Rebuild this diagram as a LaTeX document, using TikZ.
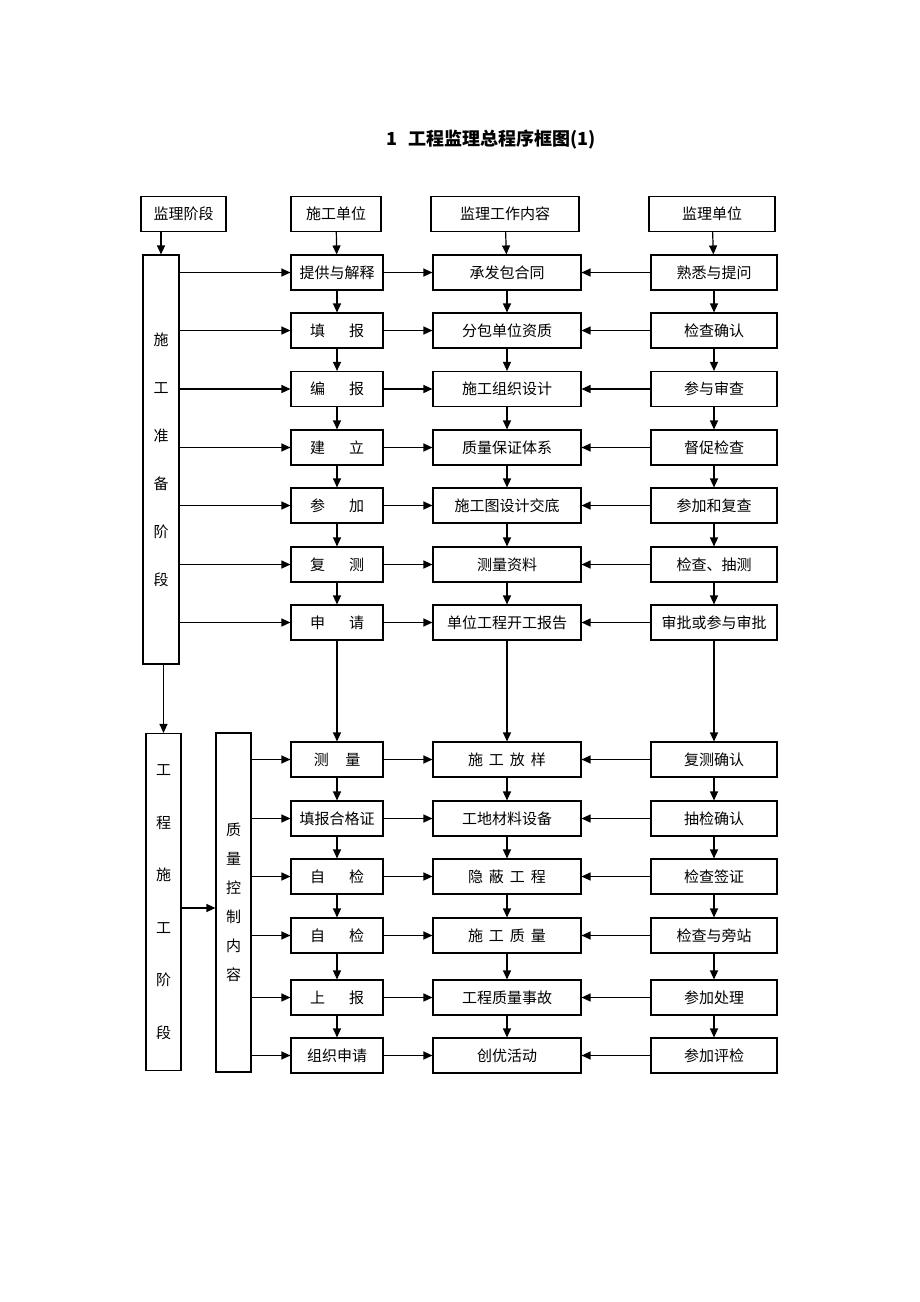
\documentclass[tikz,border=0pt]{standalone}
\usepackage{fontspec}
\setmainfont{Noto Sans CJK SC}
\usetikzlibrary{arrows.meta}
\begin{document}
\begin{tikzpicture}[x=1pt,y=-1pt,
  box/.style={draw,line width=1.1pt,inner sep=0pt,minimum height=35pt,font=\fontsize{15}{18}\selectfont},
  lc/.style={box,minimum width=92pt},
  mc/.style={box,minimum width=148pt},
  rc/.style={box,minimum width=126pt},
  tall/.style={draw,line width=1.1pt,inner sep=0pt,align=center},
  arr/.style={line width=1.2pt,-{Triangle[length=9pt,width=8pt]}}]
\useasboundingbox (0,0) rectangle (920,1302);
\node[font=\fontsize{18}{22}\selectfont\bfseries] (title) at (491,140) {1\hspace{0.6em}工程监理总程序框图(1)};
% headers
\node[box,minimum width=85pt] (h0) at (183.5,214) {监理阶段};
\node[box,minimum width=90pt] (h1) at (336,214) {施工单位};
\node[box,minimum width=148pt] (h2) at (505,214) {监理工作内容};
\node[box,minimum width=126pt] (h3) at (712,214) {监理单位};
% tall boxes
\node[tall,minimum width=36pt,minimum height=409pt,font=\fontsize{15}{48}\selectfont] (p1) at (161,459.5) {施\\工\\准\\备\\阶\\段};
\node[tall,minimum width=35pt,minimum height=337pt,font=\fontsize{15}{52.5}\selectfont] (p2) at (163.5,902) {工\\程\\施\\工\\阶\\段};
\node[tall,minimum width=35pt,minimum height=339pt,font=\fontsize{15}{29}\selectfont] (q) at (233.5,902.5) {质\\量\\控\\制\\内\\容};
% rows
\def\sp{\hspace{1.6em}}
\def\ss{\hspace{0.4em}}
\foreach \i/\y/\a/\b/\c in {
 1/272.5/提供与解释/承发包合同/熟悉与提问,
 2/330.5/填\sp 报/分包单位资质/检查确认,
 3/389/编\sp 报/施工组织设计/参与审查,
 4/447.5/建\sp 立/质量保证体系/督促检查,
 5/505.5/参\sp 加/施工图设计交底/参加和复查,
 6/564.5/复\sp 测/测量资料/检查、抽测,
 7/622.5/申\sp 请/单位工程开工报告/审批或参与审批,
 8/759.5/测\hspace{1.1em}量/施\ss 工\ss 放\ss 样/复测确认,
 9/818.5/填报合格证/工地材料设备/抽检确认,
 10/876.5/自\sp 检/隐\ss 蔽\ss 工\ss 程/检查签证,
 11/935.5/自\sp 检/施\ss 工\ss 质\ss 量/检查与旁站,
 12/997.5/上\sp 报/工程质量事故/参加处理,
 13/1055.5/组织申请/创优活动/参加评检}{
 \node[lc] (a\i) at (337,\y) {\a};
 \node[mc] (b\i) at (507,\y) {\b};
 \node[rc] (c\i) at (714,\y) {\c};
 \draw[arr] (a\i) -- (b\i);
 \draw[arr] (c\i) -- (b\i);
}
% header arrows
\draw[arr] (p1.north |- h0.south) -- (p1.north);
\draw[arr] (h1) -- (a1);
\draw[arr] (h2) -- (b1);
\draw[arr] (h3) -- (c1);
% vertical column arrows
\foreach \i [evaluate=\i as \j using int(\i+1)] in {1,...,12}{
 \draw[arr] (a\i) -- (a\j);
 \draw[arr] (b\i) -- (b\j);
 \draw[arr] (c\i) -- (c\j);
}
% stage arrows
\foreach \i in {1,...,7}{\draw[arr] (p1.east |- a\i) -- (a\i);}
\foreach \i in {8,...,13}{\draw[arr] (q.east |- a\i) -- (a\i);}
\draw[arr] (p1.south -| p2.north) -- (p2.north);
\coordinate (m) at (0,908);
\draw[arr] (p2.east |- m) -- (q.west |- m);
\end{tikzpicture}
\end{document}
